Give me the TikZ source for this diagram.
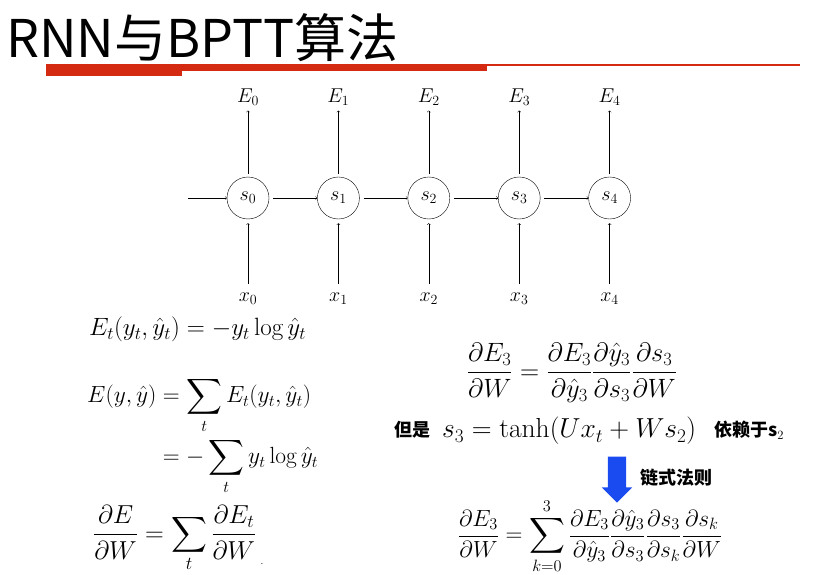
\RequirePackage{fix-cm}
\documentclass[tikz,border=0pt]{standalone}
\usepackage{amsmath}
\usepackage{fontspec}
\newfontfamily\cjk{Noto Sans CJK SC}
\usetikzlibrary{positioning,shapes.arrows}
\definecolor{barred}{HTML}{D42A12}
\definecolor{chainblue}{HTML}{1A4BF0}

\begin{document}
\begin{tikzpicture}[x=1pt,y=-1pt,
      st/.style={circle,draw,thin,minimum size=42pt,inner sep=0pt,
                 font=\fontsize{20}{20}\selectfont},
      lb/.style={font=\fontsize{20}{20}\selectfont,inner sep=2pt},
      eq/.style={font=\fontsize{26}{32}\selectfont,inner sep=0pt},
      cn/.style={font=\cjk\bfseries\fontsize{18}{18}\selectfont,inner sep=0pt},
      a/.style={->,thin}]
      \useasboundingbox (0,0) rectangle (827,575);
      % title and red bars
      \node[anchor=west,inner sep=0pt,font=\cjk\fontsize{52}{52}\selectfont] (title) at (6,38) {RNN与BPTT算法};
      \fill[barred] (46,64.3) rectangle (800,65.8);
      \fill[barred] (46,65) rectangle (487,71);
      \fill[barred] (46,65) rectangle (182,76);
      % unrolled network
      \node[st] (s0) at (248,198) {$s_0$};
      \node[st] (s1) [right=48pt of s0] {$s_1$};
      \node[st] (s2) [right=48pt of s1] {$s_2$};
      \node[st] (s3) [right=48pt of s2] {$s_3$};
      \node[st] (s4) [right=48pt of s3] {$s_4$};
      \node[lb] (e0) [above=101pt of s0.center,anchor=center] {$E_0$};
      \node[lb] (e1) [above=101pt of s1.center,anchor=center] {$E_1$};
      \node[lb] (e2) [above=101pt of s2.center,anchor=center] {$E_2$};
      \node[lb] (e3) [above=101pt of s3.center,anchor=center] {$E_3$};
      \node[lb] (e4) [above=101pt of s4.center,anchor=center] {$E_4$};
      \node[lb] (x0) [below=101pt of s0.center,anchor=center] {$x_0$};
      \node[lb] (x1) [below=101pt of s1.center,anchor=center] {$x_1$};
      \node[lb] (x2) [below=101pt of s2.center,anchor=center] {$x_2$};
      \node[lb] (x3) [below=101pt of s3.center,anchor=center] {$x_3$};
      \node[lb] (x4) [below=101pt of s4.center,anchor=center] {$x_4$};
      \coordinate (in) at (188,198);
      \draw[a] (in) -- (s0);
      \draw[a,shorten <=4pt] (s0) -- (s1); \draw[a,shorten <=4pt] (s1) -- (s2);
      \draw[a,shorten <=4pt] (s2) -- (s3); \draw[a,shorten <=4pt] (s3) -- (s4);
      \draw[a,shorten <=3pt,shorten >=3pt] (s0) -- (e0); \draw[a,shorten <=3pt,shorten >=3pt] (s1) -- (e1);
      \draw[a,shorten <=3pt,shorten >=3pt] (s2) -- (e2); \draw[a,shorten <=3pt,shorten >=3pt] (s3) -- (e3);
      \draw[a,shorten <=3pt,shorten >=3pt] (s4) -- (e4);
      \draw[a,shorten <=7pt,shorten >=4pt] (x0) -- (s0); \draw[a,shorten <=7pt,shorten >=4pt] (x1) -- (s1);
      \draw[a,shorten <=7pt,shorten >=4pt] (x2) -- (s2); \draw[a,shorten <=7pt,shorten >=4pt] (x3) -- (s3);
      \draw[a,shorten <=7pt,shorten >=4pt] (x4) -- (s4);
      % loss formulas
      \node[eq,anchor=west,font=\fontsize{25}{30}\selectfont] (loss) at (89,329) {$E_t(y_t,\hat y_t)=-y_t\log\hat y_t$};
      \node[eq,anchor=west,font=\fontsize{23.4}{29}\selectfont] (total) at (87,436) {$\begin{aligned}E(y,\hat y)&=\sum_t E_t(y_t,\hat y_t)\\&=-\sum_t y_t\log\hat y_t\end{aligned}$};
      \node[eq,anchor=west] (grad) at (93,539) {$\dfrac{\partial E}{\partial W}=\displaystyle\sum_t\dfrac{\partial E_t}{\partial W}$};
      \node[inner sep=0pt] (dot) at (262,564) {.};
      % gradient of E3
      \node[eq,font=\fontsize{26.5}{32}\selectfont] (g3) at (572,373) {$\dfrac{\partial E_3}{\partial W}=\dfrac{\partial E_3}{\partial\hat y_3}\dfrac{\partial\hat y_3}{\partial s_3}\dfrac{\partial s_3}{\partial W}$};
      \node[cn,anchor=west] (but) at (394,430) {但是};
      \node[eq,anchor=west,font=\fontsize{27.5}{32}\selectfont] (s3eq) at (442,431) {$s_3=\tanh(Ux_t+Ws_2)$};
      \node[cn,anchor=west] (dep) at (714,430) {依赖于s$_2$};
      \node[single arrow,fill=chainblue,draw=none,shape border rotate=270,minimum height=46pt,
            single arrow head extend=6pt,inner sep=9pt] (down) at (617,475) {};
      \node[cn,anchor=west] (chain) at (640,478) {链式法则};
      \node[eq,font=\fontsize{23.4}{29}\selectfont] (g3k) at (590,536) {$\dfrac{\partial E_3}{\partial W}=\displaystyle\sum_{k=0}^{3}\dfrac{\partial E_3}{\partial\hat y_3}\dfrac{\partial\hat y_3}{\partial s_3}\dfrac{\partial s_3}{\partial s_k}\dfrac{\partial s_k}{\partial W}$};
    \end{tikzpicture}
\end{document}
